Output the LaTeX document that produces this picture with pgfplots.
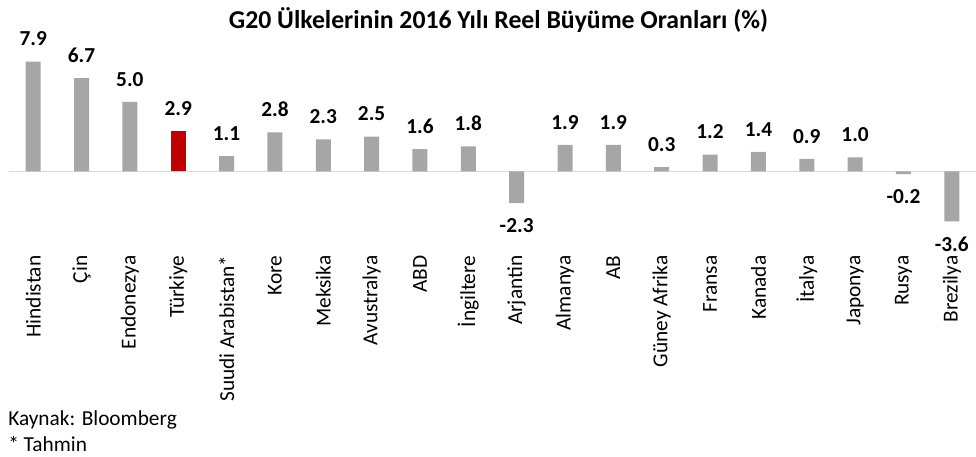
\documentclass[border=0pt]{standalone}
\usepackage{fontspec}
\setmainfont{Carlito}
\usepackage{pgfplots}
\pgfplotsset{compat=1.18}
\definecolor{bargray}{HTML}{A6A6A6}
\definecolor{barred}{HTML}{C00000}
\definecolor{axisgray}{HTML}{D9D9D9}
\begin{document}
\begin{tikzpicture}[x=1pt,y=1pt]
\useasboundingbox (-6.75,-157.5) rectangle (725.25,185.25);
\begin{axis}[
  at={(0,0)}, anchor=south west,
  scale only axis,
  width=725.25pt, height=162pt,
  xmin=-0.5, xmax=19.5,
  ymin=-5.45, ymax=10.1,
  clip=false,
  axis line style={draw=none},
  tick style={draw=none},
  ytick=\empty,
  xtick={0,...,19},
  xticklabels={Hindistan,Çin,Endonezya,Türkiye,Suudi Arabistan*,Kore,Meksika,Avustralya,ABD,İngiltere,Arjantin,Almanya,AB,Güney Afrika,Fransa,Kanada,İtalya,Japonya,Rusya,Brezilya},
  xticklabel style={rotate=90, anchor=east, font=\fontsize{16}{19}\selectfont, inner sep=2pt},
  ybar, bar width=11.25pt, bar shift=0pt,
  nodes near coords={\pgfmathprintnumber[fixed,fixed zerofill,precision=1,assume math mode=true]{\pgfplotspointmeta}},
  nodes near coords style={font=\fontsize{16}{19}\selectfont\bfseries, inner ysep=11.5pt, inner xsep=0pt, text=black},
]
\draw[axisgray, line width=1pt] (axis cs:-0.5,0) -- (axis cs:19.5,0);
\addplot[fill=bargray, draw=none] coordinates {
(0,7.9) (1,6.7) (2,5.0) (4,1.1) (5,2.8) (6,2.3) (7,2.5) (8,1.6) (9,1.8)
(10,-2.3) (11,1.9) (12,1.9) (13,0.3) (14,1.2) (15,1.4) (16,0.9) (17,1.0) (18,-0.2) (19,-3.6)};
\addplot[fill=barred, draw=none] coordinates {(3,2.9)};
\end{axis}
\node[font=\fontsize{19.3}{23}\selectfont\bfseries] at (367.1,170.25) {G20 Ülkelerinin 2016 Yılı Reel Büyüme Oranları (\%)};
\node[anchor=west, inner sep=0pt, font=\fontsize{16}{19}\selectfont] at (-0.75,-129.75) {Kaynak: Bloomberg};
\node[anchor=west, inner sep=0pt, font=\fontsize{16}{19}\selectfont] at (-0.75,-147.75) {* Tahmin};
\end{tikzpicture}
\end{document}
